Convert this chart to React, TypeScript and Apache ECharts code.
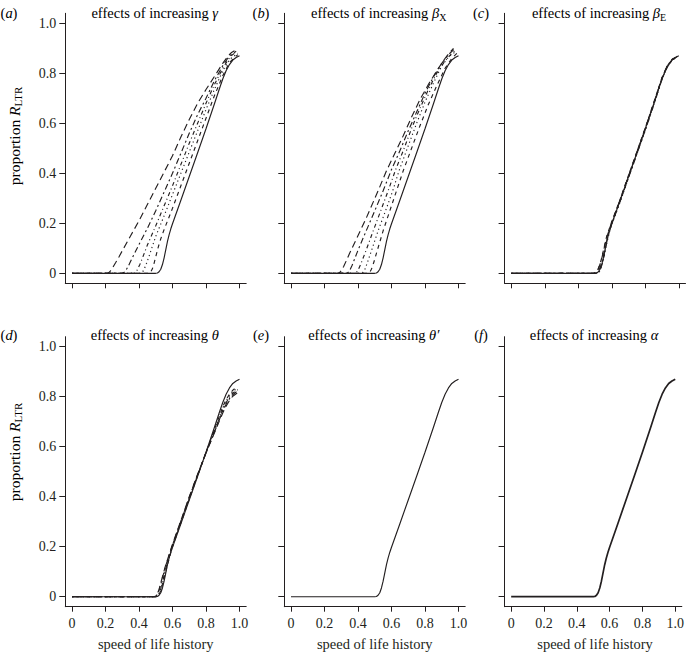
import React, { useEffect, useRef } from "react";
import * as echarts from "echarts";

type Pt = [number, number];

const X_TICKS = [0, 0.2, 0.4, 0.6, 0.8, 1.0];
const Y_TICKS = [0, 0.2, 0.4, 0.6, 0.8, 1.0];

const PANEL_LETTERS = ["a", "b", "c", "d", "e", "f"];
const PANEL_SYMBOLS = ["γ", "β", "β", "θ", "θ′", "α"];
const PANEL_SUBS = ["", "X", "E", "", "", ""];
const X_TITLE = "speed of life history";

// baseline (solid) curve, shared by all panels
const BASE: Pt[] = [[0, 0], [0.5, 0], [0.51, 0.001], [0.52, 0.006], [0.53, 0.016], [0.54, 0.035], [0.55, 0.062], [0.56, 0.095], [0.57, 0.128], [0.58, 0.155], [0.59, 0.178], [0.6, 0.198], [0.65, 0.292], [0.7, 0.387], [0.75, 0.482], [0.8, 0.578], [0.85, 0.677], [0.88, 0.738], [0.9, 0.777], [0.92, 0.81], [0.94, 0.835], [0.96, 0.853], [0.98, 0.863], [1.0, 0.87]];

// (a) increasing gamma
const A1: Pt[] = [[0, 0], [0.21, 0], [0.22, 0.003], [0.23, 0.01], [0.245, 0.025], [0.26, 0.042], [0.28, 0.065], [0.3, 0.09], [0.35, 0.15], [0.4, 0.21], [0.45, 0.275], [0.5, 0.34], [0.55, 0.405], [0.6, 0.47], [0.65, 0.545], [0.7, 0.615], [0.75, 0.68], [0.8, 0.735], [0.85, 0.787], [0.9, 0.84], [0.93, 0.868], [0.95, 0.882], [0.97, 0.89]];
const A2: Pt[] = [[0, 0], [0.3, 0], [0.31, 0.003], [0.32, 0.01], [0.335, 0.027], [0.35, 0.048], [0.375, 0.082], [0.4, 0.115], [0.45, 0.18], [0.5, 0.25], [0.55, 0.325], [0.6, 0.4], [0.65, 0.48], [0.7, 0.56], [0.75, 0.635], [0.8, 0.7], [0.85, 0.77], [0.9, 0.83], [0.93, 0.86], [0.95, 0.875], [0.98, 0.888]];
const A3: Pt[] = [[0, 0], [0.37, 0], [0.38, 0.004], [0.39, 0.014], [0.405, 0.035], [0.42, 0.06], [0.45, 0.113], [0.5, 0.19], [0.55, 0.27], [0.6, 0.35], [0.65, 0.435], [0.7, 0.52], [0.75, 0.6], [0.8, 0.68], [0.85, 0.755], [0.9, 0.82], [0.93, 0.852], [0.95, 0.87], [0.98, 0.885]];
const A4: Pt[] = [[0, 0], [0.41, 0], [0.42, 0.004], [0.43, 0.015], [0.445, 0.04], [0.46, 0.068], [0.48, 0.108], [0.5, 0.148], [0.55, 0.23], [0.6, 0.315], [0.65, 0.4], [0.7, 0.485], [0.75, 0.57], [0.8, 0.655], [0.85, 0.735], [0.9, 0.81], [0.93, 0.843], [0.95, 0.86], [0.99, 0.88]];
const A5: Pt[] = [[0, 0], [0.46, 0], [0.47, 0.005], [0.48, 0.018], [0.49, 0.04], [0.5, 0.066], [0.515, 0.105], [0.53, 0.138], [0.55, 0.175], [0.6, 0.26], [0.65, 0.35], [0.7, 0.44], [0.75, 0.53], [0.8, 0.62], [0.85, 0.71], [0.9, 0.79], [0.93, 0.83], [0.95, 0.85], [0.99, 0.875]];

// (b) increasing beta_X
const B1: Pt[] = [[0, 0], [0.28, 0], [0.29, 0.003], [0.3, 0.01], [0.315, 0.028], [0.33, 0.05], [0.35, 0.08], [0.38, 0.122], [0.45, 0.222], [0.52, 0.33], [0.57, 0.41], [0.62, 0.48], [0.67, 0.55], [0.72, 0.625], [0.77, 0.695], [0.82, 0.755], [0.87, 0.81], [0.92, 0.86], [0.95, 0.885], [0.97, 0.9]];
const B2: Pt[] = [[0, 0], [0.33, 0], [0.34, 0.003], [0.35, 0.011], [0.365, 0.032], [0.38, 0.058], [0.4, 0.092], [0.43, 0.14], [0.5, 0.25], [0.55, 0.33], [0.6, 0.415], [0.65, 0.49], [0.7, 0.57], [0.75, 0.645], [0.8, 0.72], [0.85, 0.785], [0.9, 0.84], [0.94, 0.875], [0.98, 0.9]];
const B3: Pt[] = [[0, 0], [0.38, 0], [0.39, 0.003], [0.4, 0.012], [0.415, 0.034], [0.43, 0.06], [0.45, 0.095], [0.48, 0.15], [0.53, 0.24], [0.58, 0.33], [0.625, 0.415], [0.67, 0.49], [0.72, 0.58], [0.77, 0.66], [0.82, 0.735], [0.87, 0.8], [0.92, 0.85], [0.96, 0.88], [0.99, 0.895]];
const B4: Pt[] = [[0, 0], [0.42, 0], [0.43, 0.004], [0.44, 0.014], [0.455, 0.04], [0.47, 0.07], [0.49, 0.11], [0.52, 0.17], [0.57, 0.26], [0.61, 0.335], [0.645, 0.41], [0.7, 0.51], [0.75, 0.6], [0.8, 0.685], [0.85, 0.76], [0.9, 0.83], [0.94, 0.865], [0.99, 0.89]];
const B5: Pt[] = [[0, 0], [0.46, 0], [0.47, 0.004], [0.48, 0.016], [0.495, 0.045], [0.51, 0.08], [0.53, 0.125], [0.55, 0.17], [0.6, 0.27], [0.67, 0.41], [0.72, 0.5], [0.77, 0.59], [0.82, 0.675], [0.87, 0.75], [0.92, 0.82], [0.96, 0.86], [0.99, 0.88]];

// (c) increasing beta_E
const C1: Pt[] = [[0, 0], [0.49, 0], [0.5, 0.002], [0.51, 0.007], [0.52, 0.018], [0.53, 0.036], [0.54, 0.06], [0.55, 0.088], [0.565, 0.13], [0.58, 0.165], [0.6, 0.205], [0.65, 0.295], [0.7, 0.39], [0.75, 0.485], [0.8, 0.58], [0.85, 0.68], [0.9, 0.782], [0.93, 0.828], [0.96, 0.855], [0.99, 0.866]];
const C2: Pt[] = [[0, 0], [0.5, 0], [0.51, 0.002], [0.52, 0.009], [0.53, 0.022], [0.54, 0.043], [0.55, 0.07], [0.56, 0.1], [0.58, 0.158], [0.6, 0.198], [0.65, 0.288], [0.7, 0.383], [0.75, 0.478], [0.8, 0.573], [0.85, 0.673], [0.9, 0.778], [0.93, 0.825], [0.96, 0.853], [0.99, 0.867]];
const C3: Pt[] = [[0, 0], [0.5, 0], [0.51, 0.001], [0.52, 0.005], [0.53, 0.015], [0.54, 0.032], [0.55, 0.058], [0.56, 0.09], [0.58, 0.16], [0.6, 0.202], [0.65, 0.292], [0.7, 0.387], [0.75, 0.482], [0.8, 0.577], [0.85, 0.677], [0.9, 0.781], [0.93, 0.828], [0.96, 0.856], [0.99, 0.868]];
const C4: Pt[] = [[0, 0], [0.51, 0], [0.52, 0.002], [0.53, 0.01], [0.54, 0.028], [0.55, 0.055], [0.56, 0.088], [0.57, 0.12], [0.59, 0.175], [0.61, 0.213], [0.65, 0.286], [0.7, 0.382], [0.75, 0.477], [0.8, 0.572], [0.85, 0.672], [0.9, 0.777], [0.93, 0.824], [0.96, 0.852], [0.99, 0.866]];
const C5: Pt[] = [[0, 0], [0.49, 0], [0.5, 0.002], [0.51, 0.008], [0.52, 0.02], [0.53, 0.038], [0.54, 0.063], [0.55, 0.092], [0.57, 0.15], [0.6, 0.207], [0.65, 0.297], [0.7, 0.392], [0.75, 0.487], [0.8, 0.582], [0.85, 0.682], [0.9, 0.783], [0.93, 0.829], [0.96, 0.856], [0.99, 0.867]];

// (d) increasing theta
const D1: Pt[] = [[0, 0], [0.49, 0], [0.5, 0.003], [0.51, 0.012], [0.52, 0.03], [0.53, 0.055], [0.545, 0.092], [0.56, 0.128], [0.6, 0.21], [0.65, 0.305], [0.7, 0.4], [0.75, 0.49], [0.8, 0.575], [0.85, 0.655], [0.9, 0.735], [0.92, 0.762], [0.94, 0.785], [0.96, 0.802], [0.98, 0.812], [0.99, 0.815]];
const D2: Pt[] = [[0, 0], [0.49, 0], [0.5, 0.002], [0.51, 0.01], [0.52, 0.026], [0.53, 0.05], [0.545, 0.088], [0.56, 0.125], [0.6, 0.207], [0.65, 0.302], [0.7, 0.397], [0.75, 0.488], [0.8, 0.575], [0.85, 0.658], [0.9, 0.742], [0.92, 0.77], [0.94, 0.792], [0.96, 0.808], [0.98, 0.819], [0.99, 0.822]];
const D3: Pt[] = [[0, 0], [0.5, 0], [0.51, 0.003], [0.52, 0.013], [0.53, 0.032], [0.54, 0.058], [0.555, 0.098], [0.57, 0.138], [0.6, 0.205], [0.65, 0.3], [0.7, 0.395], [0.75, 0.487], [0.8, 0.576], [0.85, 0.662], [0.9, 0.748], [0.92, 0.776], [0.94, 0.798], [0.96, 0.814], [0.98, 0.825], [0.99, 0.828]];
const D4: Pt[] = [[0, 0], [0.5, 0], [0.51, 0.002], [0.52, 0.011], [0.53, 0.028], [0.54, 0.053], [0.555, 0.093], [0.57, 0.133], [0.6, 0.203], [0.65, 0.298], [0.7, 0.393], [0.75, 0.486], [0.8, 0.577], [0.85, 0.666], [0.9, 0.755], [0.92, 0.783], [0.94, 0.805], [0.96, 0.82], [0.98, 0.831], [0.99, 0.834]];
const D5: Pt[] = [[0, 0], [0.5, 0], [0.51, 0.002], [0.52, 0.009], [0.53, 0.025], [0.54, 0.049], [0.555, 0.088], [0.57, 0.128], [0.6, 0.2], [0.65, 0.295], [0.7, 0.39], [0.75, 0.484], [0.8, 0.577], [0.85, 0.668], [0.9, 0.76], [0.92, 0.788], [0.94, 0.81], [0.96, 0.826], [0.98, 0.837], [0.99, 0.84]];

const DASHES: (number[] | "solid")[] = [[7, 4], [2, 3, 6, 3], [1, 3, 4, 3], [1.2, 3], [4, 4], "solid"];

const PANEL_SERIES: Pt[][][] = [
  [A1, A2, A3, A4, A5, BASE],
  [B1, B2, B3, B4, B5, BASE],
  [C1, C2, C3, C4, C5, BASE],
  [D1, D2, D3, D4, D5, BASE],
  [BASE],
  [BASE],
];

const FONT = "Liberation Serif, Times New Roman, serif";
const INK = "#231f20";

const COL_X0 = [72.0, 291.0, 511.3];
const UNIT_X = 167.5;
const ROW_Y1 = [23.3, 346.7];
const UNIT_Y = 250;

export default function App() {
  const ref = useRef<HTMLDivElement>(null);

  useEffect(() => {
    if (!ref.current) return;
    const chart = echarts.init(ref.current, null, { renderer: "svg" });

    const grids: any[] = [];
    const xAxes: any[] = [];
    const yAxes: any[] = [];
    const series: any[] = [];
    const graphics: any[] = [];

    const richBase = {
      n: { fontFamily: FONT, fontSize: 14.5, color: INK, lineHeight: 18 },
      i: { fontFamily: FONT, fontSize: 14.5, fontStyle: "italic", color: INK, lineHeight: 18 },
      s: { fontFamily: FONT, fontSize: 10, color: INK, lineHeight: 9, verticalAlign: "bottom" },
    };
    const richY = {
      n: { fontFamily: FONT, fontSize: 15.5, color: INK, lineHeight: 19 },
      i: { fontFamily: FONT, fontSize: 15.5, fontStyle: "italic", color: INK, lineHeight: 19 },
      s: { fontFamily: FONT, fontSize: 11, color: INK, lineHeight: 10, verticalAlign: "bottom" },
    };

    for (let p = 0; p < 6; p++) {
      const col = p % 3;
      const row = Math.floor(p / 3);
      const left = COL_X0[col] - 0.04 * UNIT_X;
      const top = ROW_Y1[row] - 0.04 * UNIT_Y;
      grids.push({ left, top, width: 1.08 * UNIT_X, height: 1.08 * UNIT_Y, containLabel: false });
      const bottomRow = row === 1;
      const leftCol = col === 0;
      xAxes.push({
        type: "value",
        gridIndex: p,
        min: -0.04,
        max: 1.04,
        axisLine: { show: true, onZero: false, lineStyle: { color: INK, width: 1 } },
        axisTick: { show: true, length: 5, customValues: X_TICKS, lineStyle: { color: INK } },
        axisLabel: {
          show: bottomRow,
          customValues: X_TICKS,
          margin: 10,
          fontFamily: FONT,
          fontSize: 14,
          color: INK,
          formatter: (v: number) => (v === 0 ? "0" : v.toFixed(1)),
        },
        splitLine: { show: false },
      });
      yAxes.push({
        type: "value",
        gridIndex: p,
        min: -0.04,
        max: 1.04,
        axisLine: { show: true, onZero: false, lineStyle: { color: INK, width: 1 } },
        axisTick: { show: true, length: 6, customValues: Y_TICKS, lineStyle: { color: INK } },
        axisLabel: {
          show: leftCol,
          customValues: Y_TICKS,
          margin: 9,
          fontFamily: FONT,
          fontSize: 14,
          color: INK,
          formatter: (v: number) => (v === 0 ? "0" : v.toFixed(1)),
        },
        splitLine: { show: false },
      });

      const curves = PANEL_SERIES[p];
      curves.forEach((data, k) => {
        const dash = curves.length === 1 ? "solid" : DASHES[k];
        series.push({
          type: "line",
          xAxisIndex: p,
          yAxisIndex: p,
          data,
          showSymbol: false,
          smooth: false,
          lineStyle: { color: INK, width: p === 5 ? 1.7 : 1.15, type: dash },
          z: k === curves.length - 1 ? 3 : 2,
        });
      });

      const centerX = COL_X0[col] + UNIT_X / 2;
      const titleY = row === 0 ? 13 : 335;
      const letterX = [9, 261, 481][col];
      graphics.push({
        type: "text",
        x: letterX,
        y: titleY,
        style: {
          text: `{n|(}{i|${PANEL_LETTERS[p]}}{n|)}`,
          rich: richBase,
          align: "center",
          verticalAlign: "middle",
        },
      });
      const sub = PANEL_SUBS[p] ? `{s|${PANEL_SUBS[p]}}` : "";
      graphics.push({
        type: "text",
        x: centerX + (PANEL_SUBS[p] ? 4 : -1),
        y: titleY,
        style: {
          text: `{n|effects of increasing }{i|${PANEL_SYMBOLS[p]}}${sub}`,
          rich: richBase,
          align: "center",
          verticalAlign: "middle",
        },
      });
      if (leftCol) {
        graphics.push({
          type: "text",
          x: 14,
          y: row === 0 ? 136 : 452,
          rotation: Math.PI / 2,
          style: {
            text: `{n|proportion }{i|R}{s|LTR}`,
            rich: richY,
            align: "center",
            verticalAlign: "middle",
          },
        });
      }
      if (bottomRow) {
        graphics.push({
          type: "text",
          x: centerX,
          y: 644,
          style: {
            text: X_TITLE,
            fontFamily: FONT,
            fontSize: 14.5,
            fill: INK,
            align: "center",
            verticalAlign: "middle",
          },
        });
      }
    }

    chart.setOption({
      animation: false,
      backgroundColor: "#ffffff",
      grid: grids,
      xAxis: xAxes,
      yAxis: yAxes,
      series,
      graphic: graphics,
    });

    return () => chart.dispose();
  }, []);

  return (
    <div
      ref={ref}
      style={{ position: "absolute", left: 0, top: 0, width: 687, height: 653, background: "#fff" }}
    />
  );
}
